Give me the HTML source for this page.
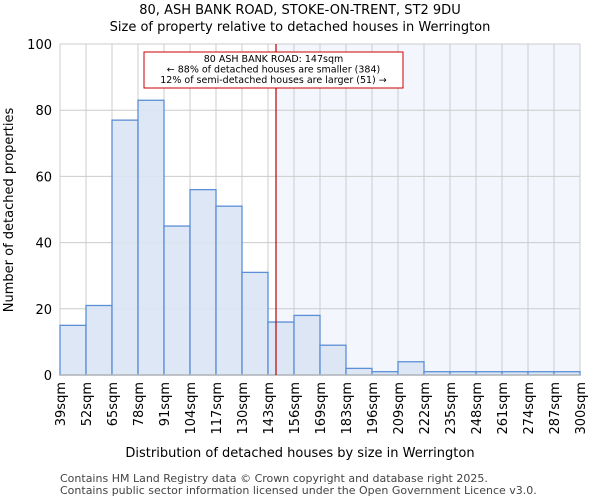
<!DOCTYPE html>
<html><head><meta charset="utf-8"><style>
body{margin:0;background:#fff;font-family:"DejaVu Sans","Liberation Sans",sans-serif;}
</style></head><body>
<svg width="600" height="500" xmlns="http://www.w3.org/2000/svg" font-family="DejaVu Sans, Liberation Sans, sans-serif">
<text x="300" y="14" text-anchor="middle" font-size="13">80, ASH BANK ROAD, STOKE-ON-TRENT, ST2 9DU</text>
<text x="300" y="31" text-anchor="middle" font-size="13">Size of property relative to detached houses in Werrington</text>
<g id="plot"></g>
<text x="300" y="457" text-anchor="middle" font-size="13">Distribution of detached houses by size in Werrington</text>
<text transform="translate(13,210) rotate(-90)" text-anchor="middle" font-size="13">Number of detached properties</text>
<text x="60" y="482" font-size="11" fill="#444">Contains HM Land Registry data © Crown copyright and database right 2025.</text>
<text x="60" y="494" font-size="11" fill="#444">Contains public sector information licensed under the Open Government Licence v3.0.</text>
</svg>
<script>
const categories=["39sqm","52sqm","65sqm","78sqm","91sqm","104sqm","117sqm","130sqm","143sqm","156sqm","169sqm","183sqm","196sqm","209sqm","222sqm","235sqm","248sqm","261sqm","274sqm","287sqm","300sqm"];
const counts=[15,21,77,83,45,56,51,31,16,18,9,2,1,4,1,1,1,1,1,1];
const yTicks=[0,20,40,60,80,100];
const marker=147;
const NS="http://www.w3.org/2000/svg";
const g=document.getElementById('plot');
const L=60,R=580,T=44,B=375,n=counts.length,bw=(R-L)/n;
const x=i=>L+i*bw;
const y=v=>B-(v/100)*(B-T);
const xv=v=>L+(v-39)/13*bw;
function mk(t,a){const e=document.createElementNS(NS,t);for(const k in a)e.setAttribute(k,a[k]);g.appendChild(e);return e;}
let e;
e=mk('rect',{x:xv(marker),y:T,width:R-xv(marker),height:B-T,fill:'#eef2fc',opacity:0.7});


for(let i=0;i<=n;i++){e=mk('line',{x1:x(i),x2:x(i),y1:T,y2:B,stroke:'#ccc','stroke-width':1});

}
yTicks.forEach(v=>{e=mk('line',{x1:L,x2:R,y1:y(v),y2:y(v),stroke:'#ccc','stroke-width':1});


e=mk('text',{x:L-8,y:y(v)+5,'text-anchor':'end','font-size':13});e.textContent=v;

});
counts.forEach((c,i)=>{e=mk('rect',{x:x(i),y:y(c),width:bw,height:B-y(c),fill:'#dae4f4',stroke:'#5b8fd6','stroke-width':1.3,'fill-opacity':0.9});

});
categories.forEach((c,i)=>{e=mk('text',{transform:`translate(${x(i)+5},382) rotate(-90)`,'text-anchor':'end','font-size':13});e.textContent=c;

});
e=mk('line',{x1:L,x2:R,y1:B,y2:B,stroke:'#bbb','stroke-width':1.5});


e=mk('line',{x1:xv(marker),x2:xv(marker),y1:T,y2:B,stroke:'#b00','stroke-width':1.2});


e=mk('rect',{x:144,y:52,width:259,height:36,fill:'#fff',stroke:'#c00','stroke-width':1});


["80 ASH BANK ROAD: 147sqm","← 88% of detached houses are smaller (384)","12% of semi-detached houses are larger (51) →"].forEach((s,i)=>{
e=mk('text',{x:273.5,y:62+i*10.5,'text-anchor':'middle','font-size':9.5});e.textContent=s;

});
</script>
</body></html>
